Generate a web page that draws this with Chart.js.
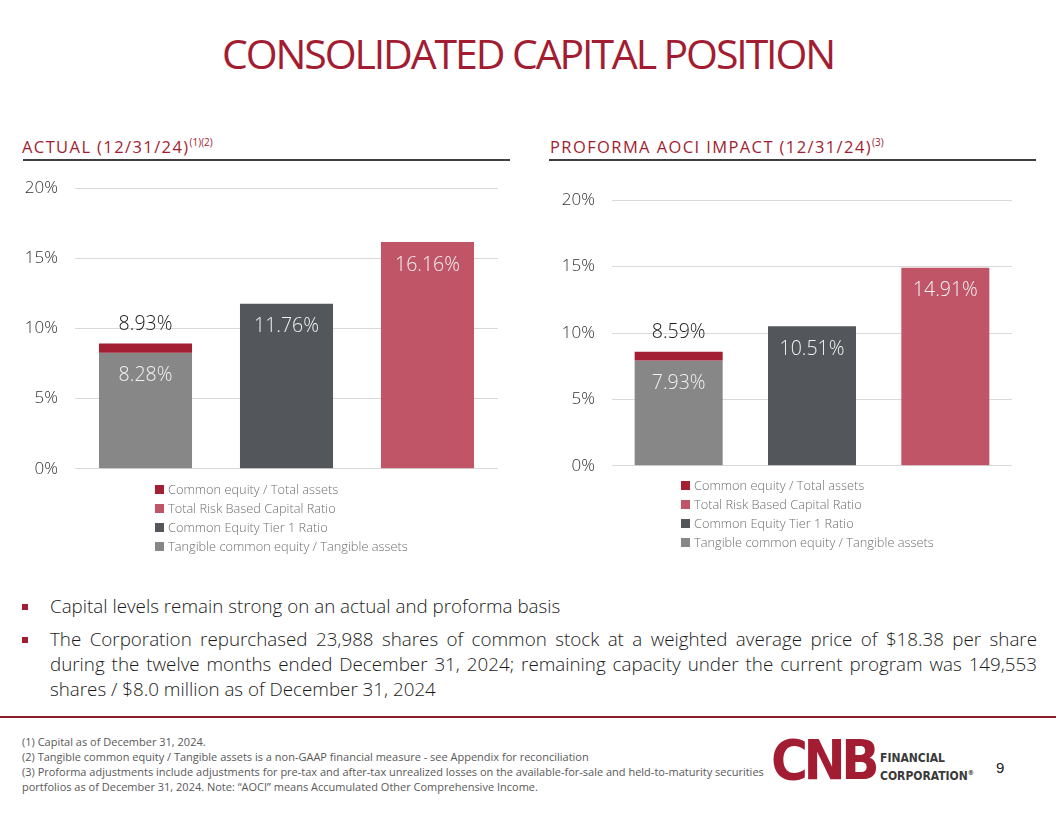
<!DOCTYPE html>
<html>
<head>
<meta charset="utf-8">
<title>Consolidated Capital Position</title>
<script src="https://cdn.jsdelivr.net/npm/chart.js@4.4.1/dist/chart.umd.min.js"></script>
<style>
  html, body { margin: 0; padding: 0; background: #fff; }
  body { width: 1056px; height: 816px; position: relative; overflow: hidden; font-family: "Open Sans", sans-serif; }
  .title { position: absolute; left: 0; width: 1056px; top: 28px; text-align: center; color: #a21d32; font-size: 41px; letter-spacing: -2.1px; line-height: 50px; }
  .head { position: absolute; top: 131px; color: #a21d32; font-size: 16.5px; letter-spacing: 1.4px; line-height: 22px; white-space: nowrap; }
  .head sup { font-size: 10px; letter-spacing: 0; }
  .rule { position: absolute; top: 159px; height: 1.5px; background: #3f3f3f; }
  canvas { position: absolute; }
  .legend { position: absolute; font-size: 12.8px; font-weight: 300; color: #6f6f6f; line-height: 19px; white-space: nowrap; }
  .legend .box { display: inline-block; width: 9px; height: 9px; margin-right: 4px; }
  .bullets { position: absolute; left: 22px; top: 594px; width: 1015px; font-size: 18.8px; font-weight: 300; color: #1a1a1a; line-height: 25px; }
  .bullets .item { position: relative; padding-left: 28px; margin-bottom: 8px; }
  .bullets .item:before { content: ""; position: absolute; left: 0; top: 10px; width: 6px; height: 6px; background: #a21d32; }
  .bullets .just { text-align: justify; text-align-last: justify; }
  .redline { position: absolute; left: 0; top: 716px; width: 1056px; height: 2px; background: #8c1b2c; }
  .notes { position: absolute; left: 22px; top: 734px; font-size: 11px; color: #595959; line-height: 15px; white-space: nowrap; }
  .cnb { position: absolute; left: 771px; top: 727px; font-family: "DejaVu Sans Condensed", "DejaVu Sans", sans-serif; font-weight: bold; font-size: 56px; color: #a21d32; letter-spacing: -4.5px; }
  .corp { position: absolute; left: 880px; top: 751px; font-family: "DejaVu Sans Condensed", "DejaVu Sans", sans-serif; font-weight: bold; font-size: 12px; color: #3a3a3a; line-height: 15px; }
  .page { position: absolute; left: 996px; top: 759px; font-family: "Liberation Sans", Arial, sans-serif; font-size: 15px; color: #222; }
</style>
</head>
<body>
<div class="title">CONSOLIDATED CAPITAL POSITION</div>

<div class="head" style="left:22px">ACTUAL (12/31/24)<sup>(1)(2)</sup></div>
<div class="rule" style="left:23px; width:487px"></div>
<div class="head" style="left:550px">PROFORMA AOCI IMPACT (12/31/24)<sup>(3)</sup></div>
<div class="rule" style="left:549px; width:487px"></div>

<canvas id="actualChart" width="498" height="335" style="left:0px; top:161px"></canvas>
<canvas id="proformaChart" width="484" height="320" style="left:528px; top:173px"></canvas>
<div class="legend" id="actualLegend" style="left:155px; top:480px"></div>
<div class="legend" id="proformaLegend" style="left:681px; top:476px"></div>

<div class="bullets">
  <div class="item">Capital levels remain strong on an actual and proforma basis</div>
  <div class="item">
    <div class="just">The Corporation repurchased 23,988 shares of common stock at a weighted average price of $18.38 per share</div>
    <div class="just">during the twelve months ended December 31, 2024; remaining capacity under the current program was 149,553</div>
    <div>shares / $8.0 million as of December 31, 2024</div>
  </div>
</div>

<div class="redline"></div>
<div class="notes">
  (1) Capital as of December 31, 2024.<br>
  (2) Tangible common equity / Tangible assets is a non-GAAP financial measure - see Appendix for reconciliation<br>
  (3) Proforma adjustments include adjustments for pre-tax and after-tax unrealized losses on the available-for-sale and held-to-maturity securities<br>
  portfolios as of December 31, 2024. Note: “AOCI” means Accumulated Other Comprehensive Income.
</div>
<div class="cnb">CNB</div>
<div class="corp">FINANCIAL<br>CORPORATION<sup style="font-size:7px">®</sup></div>
<div class="page">9</div>

<script>
// Données du graphique
const barCategories = ['TCE / TA', 'CET1', 'Total RBC'];
const seriesNames = [
  'Common equity / Total assets',
  'Total Risk Based Capital Ratio',
  'Common Equity Tier 1 Ratio',
  'Tangible common equity / Tangible assets'
];
const seriesBar = [0, 2, 1, 0]; // barre où chaque série est dessinée
const actualValues = [8.93, 16.16, 11.76, 8.28];
const proformaValues = [8.59, 14.91, 10.51, 7.93];
const yTicks = [0, 5, 10, 15, 20];
const seriesColors = ['#a31f34', '#bf5567', '#53565a', '#878787'];

const tangibleIndex = 3;

// monte les datasets: la part "common equity" est posée au-dessus de la barre grise
function buildDatasets(values) {
  return seriesNames.map((name, i) => {
    const data = barCategories.map(() => null);
    if (i === 0) {
      data[seriesBar[i]] = [values[tangibleIndex], values[i]];
    } else {
      data[seriesBar[i]] = values[i];
    }
    return {
      label: name,
      data: data,
      backgroundColor: seriesColors[i],
      borderWidth: 0,
      grouped: false,
      barPercentage: 0.66,
      categoryPercentage: 1
    };
  });
}

// étiquettes de valeur sur les barres
const valueLabels = {
  id: 'valueLabels',
  afterDatasetsDraw(chart) {
    const ctx = chart.ctx;
    ctx.save();
    ctx.font = '300 19.5px "Open Sans"';
    ctx.textAlign = 'center';
    ctx.textBaseline = 'middle';
    chart.data.datasets.forEach((ds, i) => {
      const meta = chart.getDatasetMeta(i);
      meta.data.forEach((bar, j) => {
        const v = ds.data[j];
        if (v == null) return;
        if (Array.isArray(v)) {
          ctx.fillStyle = '#1a1a1a';
          ctx.fillText(v[1].toFixed(2) + '%', bar.x, bar.y - 19);
        } else {
          ctx.fillStyle = '#f2f2f2';
          ctx.fillText(v.toFixed(2) + '%', bar.x, bar.y + 23);
        }
      });
    });
    ctx.restore();
  }
};

function makeChart(canvasId, legendId, values, padLeft, axisWidth) {
  const ctx = document.getElementById(canvasId).getContext('2d');
  const chart = new Chart(ctx, {
    type: 'bar',
    data: {
      labels: barCategories,
      datasets: buildDatasets(values)
    },
    options: {
      responsive: false,
      animation: false,
      layout: { padding: { left: padLeft, right: 0, top: 0, bottom: 0 } },
      plugins: {
        legend: { display: false },
        tooltip: { enabled: false }
      },
      scales: {
        x: { display: false, offset: true },
        y: {
          min: 0,
          max: 20,
          afterBuildTicks: s => { s.ticks = yTicks.map(v => ({ value: v })); },
          afterFit: s => { s.width = axisWidth; },
          ticks: {
            callback: v => v + '%',
            color: '#333333',
            font: { family: 'Open Sans', size: 17, weight: '300' },
            padding: 17
          },
          grid: { color: '#d9d9d9', drawTicks: false },
          border: { display: false }
        }
      }
    },
    plugins: [valueLabels]
  });

  // légende verticale en HTML
  const items = Chart.defaults.plugins.legend.labels.generateLabels(chart);
  const legend = document.getElementById(legendId);
  legend.innerHTML = items.map(it =>
    '<div><span class="box" style="background:' + it.fillStyle + '"></span>' + it.text + '</div>'
  ).join('');
  return chart;
}

makeChart('actualChart', 'actualLegend', actualValues, 5, 70);
makeChart('proformaChart', 'proformaLegend', proformaValues, 9, 75);
</script>
</body>
</html>
